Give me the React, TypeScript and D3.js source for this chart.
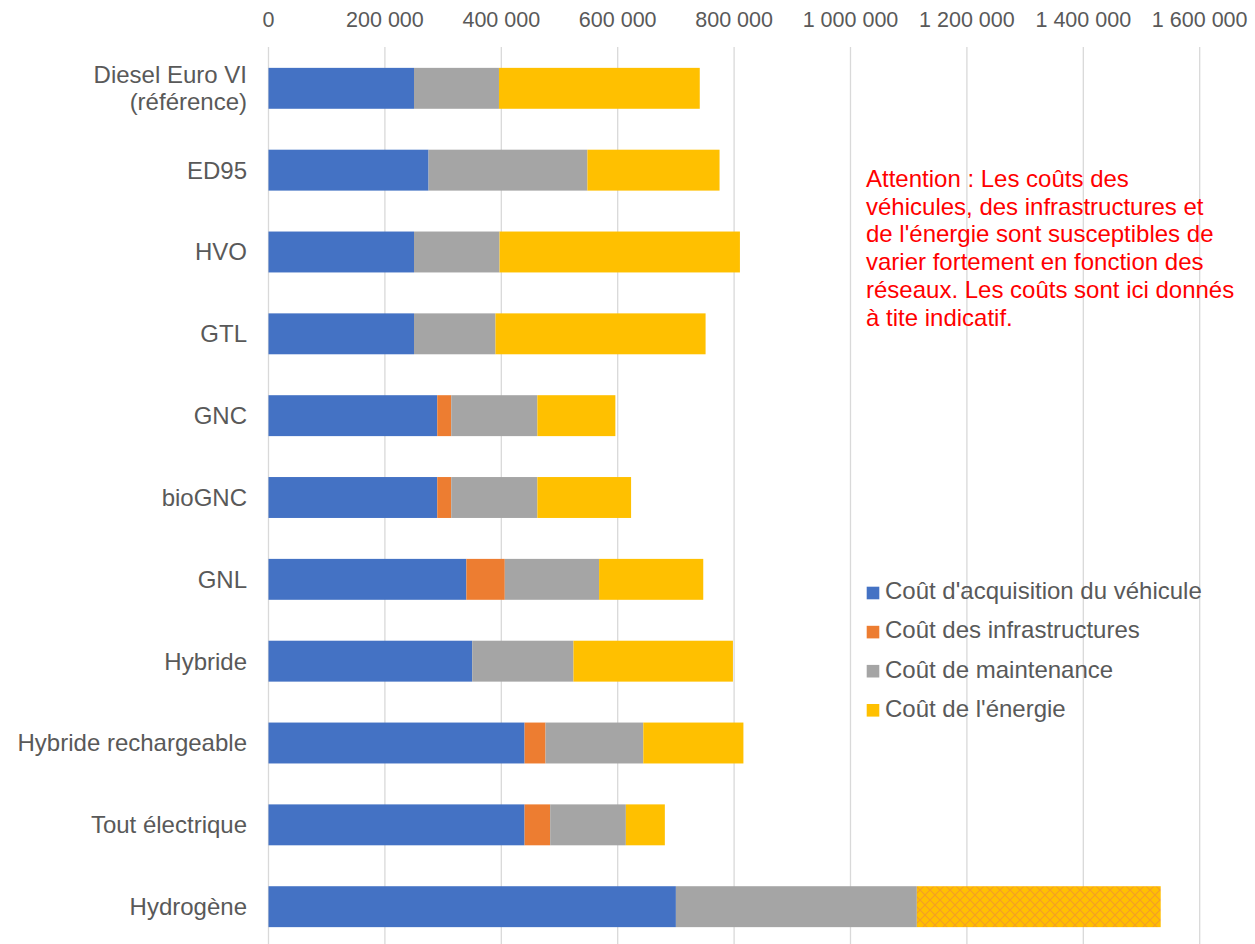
import React from "react";
import * as d3 from "d3";

// Coûts cumulés par filière (en euros)
const categories = [
  "Diesel Euro VI\n(référence)",
  "ED95",
  "HVO",
  "GTL",
  "GNC",
  "bioGNC",
  "GNL",
  "Hybride",
  "Hybride rechargeable",
  "Tout électrique",
  "Hydrogène",
];
const acquisition = [250000, 275000, 250000, 250000, 290000, 290000, 340000, 350000, 440000, 440000, 700000];
const infrastructures = [0, 0, 0, 0, 24000, 24000, 66000, 0, 36000, 44000, 0];
const maintenance = [146000, 273000, 147000, 140000, 148000, 148000, 162000, 174000, 168000, 130000, 414000];
const energie = [345000, 227000, 413000, 361000, 134000, 161000, 179000, 274000, 172000, 67000, 419000];

const seriesNames = [
  "Coût d'acquisition du véhicule",
  "Coût des infrastructures",
  "Coût de maintenance",
  "Coût de l'énergie",
];
const seriesKeys = ["acquisition", "infrastructures", "maintenance", "energie"];
const seriesColors = ["#4472C4", "#ED7D31", "#A5A5A5", "#FFC000"];
const tickValues = [0, 200000, 400000, 600000, 800000, 1000000, 1200000, 1400000, 1600000];

// Catégorie dont le coût de l'énergie est hachuré (estimation incertaine)
const hatchedCategory = "Hydrogène";

const noteLines = [
  "Attention : Les coûts des",
  "véhicules, des infrastructures et",
  "de l'énergie sont susceptibles de",
  "varier fortement en fonction des",
  "réseaux. Les coûts sont ici donnés",
  "à tite indicatif.",
];

const W = 1255;
const H = 944;
const FONT = "'Liberation Sans', Arial, sans-serif";

const fmt = (v: number) => d3.format(",")(v).replace(/,/g, " ");

export default function App() {
  const rows = categories.map((c, i) => ({
    cat: c,
    acquisition: acquisition[i],
    infrastructures: infrastructures[i],
    maintenance: maintenance[i],
    energie: energie[i],
  }));
  const stacked = d3.stack<any>().keys(seriesKeys)(rows);

  const x = d3.scaleLinear().domain([0, 1600000]).range([268.5, 1199.7]);
  const y = d3
    .scaleBand<string>()
    .domain(categories)
    .range([47.4, 947.6])
    .paddingInner(0.5)
    .paddingOuter(0.25);

  return (
    <svg
      width={W}
      height={H}
      style={{ position: "absolute", left: 0, top: 0, background: "#fff" }}
      fontFamily={FONT}
    >
      <defs>
        <pattern id="hatch" width={10} height={10} patternUnits="userSpaceOnUse">
          <rect width={10} height={10} fill="#FFC000" />
          <path
            d="M0,0 L10,10 M10,0 L0,10"
            stroke="#F0962E"
            strokeWidth={1.2}
            opacity={0.8}
          />
        </pattern>
      </defs>
      <rect width={W} height={H} fill="#fff" />

      {/* Quadrillage vertical */}
      {tickValues.map((t) => (
        <line
          key={t}
          x1={x(t)}
          x2={x(t)}
          y1={47}
          y2={H}
          stroke="#D9D9D9"
          strokeWidth={1.3}
        />
      ))}

      {/* Étiquettes de l'axe des valeurs */}
      {tickValues.map((t) => (
        <text
          key={"t" + t}
          x={x(t)}
          y={27.3}
          textAnchor="middle"
          fontSize={21.5}
          fill="#595959"
        >
          {fmt(t)}
        </text>
      ))}

      {/* Barres empilées */}
      {stacked.map((s, si) => (
        <g key={s.key}>
          {s.map((d, i) => {
            const w = x(d[1]) - x(d[0]);
            if (w <= 0) return null;
            const cat = categories[i];
            const fill =
              s.key === "energie" && cat === hatchedCategory ? "url(#hatch)" : seriesColors[si];
            return (
              <rect
                key={cat}
                x={x(d[0])}
                y={y(cat)}
                width={w}
                height={y.bandwidth()}
                fill={fill}
              />
            );
          })}
        </g>
      ))}

      {/* Étiquettes des catégories */}
      {categories.map((c) => {
        const lines = c.split("\n");
        const cy = (y(c) as number) + y.bandwidth() / 2;
        const lh = 27;
        return (
          <text key={c} textAnchor="end" fontSize={24} fill="#595959">
            {lines.map((l, li) => (
              <tspan
                key={li}
                x={247}
                y={cy + (li - (lines.length - 1) / 2) * lh}
                dy="0.35em"
              >
                {l}
              </tspan>
            ))}
          </text>
        );
      })}

      {/* Avertissement */}
      <text fontSize={24} fill="#FF0000">
        {noteLines.map((l, i) => (
          <tspan key={i} x={866} y={186.7 + i * 27.8}>
            {l}
          </tspan>
        ))}
      </text>

      {/* Légende */}
      {seriesNames.map((n, i) => {
        const by = 599.3 + i * 39.1;
        return (
          <g key={n}>
            <rect x={866.7} y={by - 12.6} width={12.6} height={12.6} fill={seriesColors[i]} />
            <text x={885} y={by} fontSize={24} fill="#595959">
              {n}
            </text>
          </g>
        );
      })}
    </svg>
  );
}
